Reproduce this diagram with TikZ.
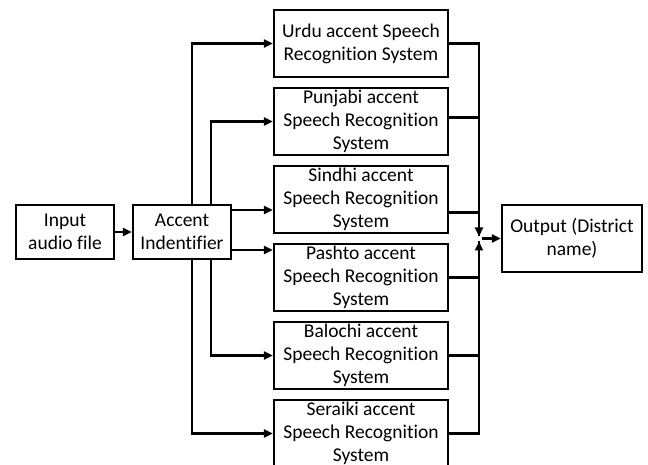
\documentclass[tikz,border=0pt]{standalone}
\usepackage{fontspec}
\setmainfont{Carlito}[Ligatures={NoCommon,NoContextual},Contextuals=NoAlternate]
\usetikzlibrary{arrows.meta}
\begin{document}
\begin{tikzpicture}[x=1pt,y=-1pt,
  box/.style={draw,line width=2.2pt,inner sep=0pt,align=center,
    font=\fontsize{19.5}{23}\selectfont},
  small/.style={box,minimum width=98pt,minimum height=54pt},
  asr/.style={box,minimum width=174pt,minimum height=67pt},
  wire/.style={line width=2.2pt},
  arr/.style={wire,-{Triangle[length=9pt,width=8pt]}}]
\useasboundingbox (0,0) rectangle (648,465);
\fill[white] (0,0) rectangle (648,465);
% input stages
\node[small] (input)  at (65,232)  {Input\\audio file};
\node[small] (accent) at (182,232) {Accent\\Indentifier};
% accent-specific recognisers
\node[asr] (urdu)    at (361,43.5)  {Urdu accent Speech\\Recognition System};
\node[asr] (punjabi) at (361,121.5) {Punjabi accent\\Speech Recognition\\System};
\node[asr] (sindhi)  at (361,199.5) {Sindhi accent\\Speech Recognition\\System};
\node[asr] (pashto)  at (361,277.5) {Pashto accent\\Speech Recognition\\System};
\node[asr] (balochi) at (361,355.5) {Balochi accent\\Speech Recognition\\System};
\node[asr] (seraiki) at (361,433.5) {Seraiki accent\\Speech Recognition\\System};
% result
\node[box,minimum width=140pt,minimum height=67pt] (output) at (572,238.5) {Output (District\\name)};
% distribution buses
\coordinate (outer) at (192,0);
\coordinate (inner) at (211,0);
\coordinate (bus) at (479,0);
\draw[arr] (input) -- (accent);
\draw[arr] (accent.north -| outer) |- (urdu.west);
\draw[arr] (accent.south -| outer) |- (seraiki.west);
\draw[arr] (accent.north -| inner) |- (punjabi.west);
\draw[arr] (accent.south -| inner) |- (balochi.west);
\draw[arr] ([yshift=22pt]accent.east) -- ([yshift=22pt]accent.east -| sindhi.west);
\draw[arr] ([yshift=-18pt]accent.east) -- ([yshift=-18pt]accent.east -| pashto.west);
% collecting bus
\coordinate (jtop) at ([yshift=2pt]output.west -| bus);
\coordinate (jbot) at ([yshift=-3pt]output.west -| bus);
\draw[wire] (urdu.east) -| (jtop);
\draw[arr] (urdu.east -| bus) -- (jtop);
\draw[wire] ([yshift=4pt]punjabi.east) -- ([yshift=4pt]punjabi.east -| bus);
\draw[wire] ([yshift=-13pt]sindhi.east) -- ([yshift=-13pt]sindhi.east -| bus);
\draw[wire] (seraiki.east) -| (jbot);
\draw[arr] (seraiki.east -| bus) -- (jbot);
\draw[wire] (pashto.east) -- (pashto.east -| bus);
\draw[wire] (balochi.east) -- (balochi.east -| bus);
\draw[arr] ([xshift=3pt]output.west -| bus) -- (output.west);
\end{tikzpicture}
\end{document}
